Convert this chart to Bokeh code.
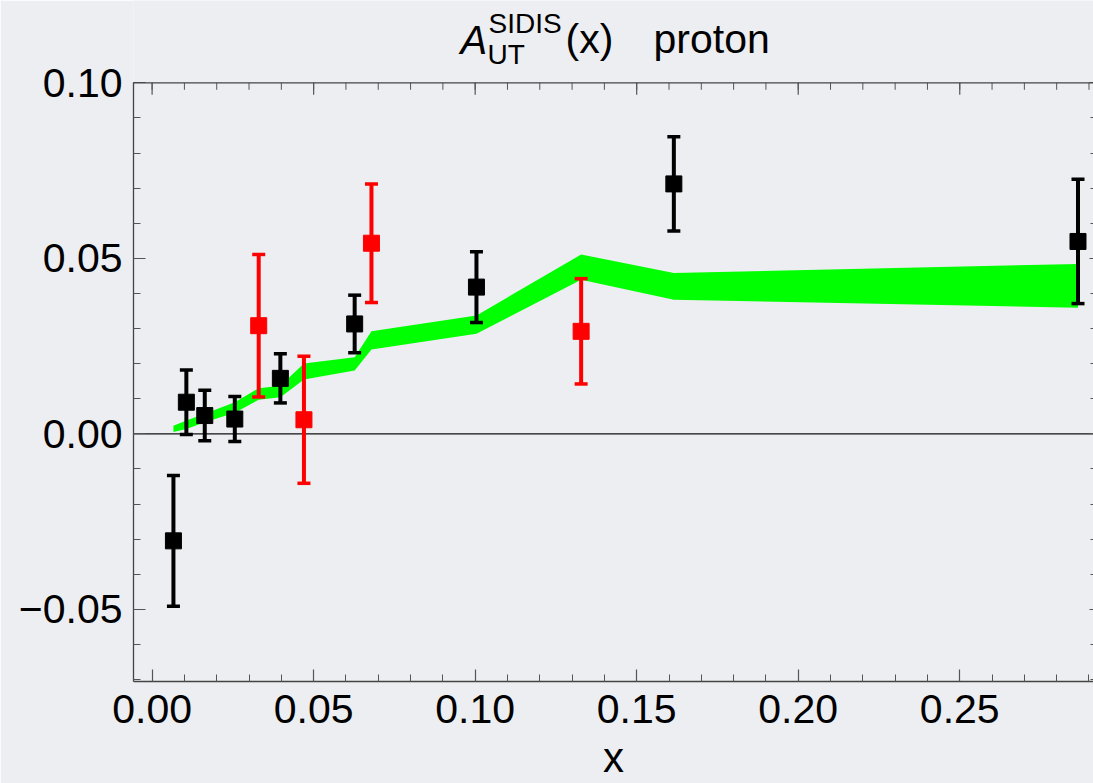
from bokeh.plotting import figure
from bokeh.models import (FixedTicker, LinearAxis, Span, Range1d,
                          CustomJSTickFormatter)
from bokeh.core.properties import value
from bokeh.embed import file_html
from bokeh.resources import INLINE

# COMPASS proton data (black)
compass_x = [0.0066, 0.0106, 0.0163, 0.0256, 0.0397, 0.0627, 0.1004, 0.1615, 0.2866]
compass_y = [-0.0305, 0.0090, 0.0052, 0.0042, 0.0158, 0.0313, 0.0418, 0.0712, 0.0548]
compass_err = [0.0186, 0.0092, 0.0072, 0.0064, 0.0070, 0.0082, 0.0101, 0.0134, 0.0177]

# HERMES proton data (red)
hermes_x = [0.0330, 0.0470, 0.0679, 0.1328]
hermes_y = [0.0308, 0.0040, 0.0543, 0.0292]
hermes_err = [0.0203, 0.0181, 0.0169, 0.0150]

# model uncertainty band evaluated at the measured x values
band_x = [0.0066, 0.0106, 0.0163, 0.0256, 0.0330, 0.0397, 0.0470,
          0.0627, 0.0679, 0.1004, 0.1328, 0.1615, 0.2866]
band_hi = [0.0023, 0.0038, 0.0057, 0.0090, 0.0130, 0.0137, 0.0200,
           0.0218, 0.0292, 0.0337, 0.0511, 0.0458, 0.0484]
band_lo = [0.0005, 0.0014, 0.0033, 0.0060, 0.0097, 0.0104, 0.0155,
           0.0180, 0.0240, 0.0285, 0.0439, 0.0382, 0.0359]

# ticks
x_major = [0.00, 0.05, 0.10, 0.15, 0.20, 0.25]
x_minor = [i / 100 for i in range(0, 30)]
y_major = [-0.05, 0.00, 0.05, 0.10]
y_minor = [i / 100 for i in range(-7, 11)]

FONT = "Liberation Sans"
BG = "#eceef1"
SPINE = "#444444"
TICK = "#555555"
W, H = 1093, 783
LEFT = 133                  # left margin holding the y tick labels
BOTTOM = 102                # room for the x tick labels and axis name
FRAME_H = H - BOTTOM

X0, X1 = -0.00576, 0.2914   # horizontal data range
Y0, Y1 = -0.07057, 0.12345  # vertical range; upper part hosts the title
Y_TOP = 0.10                # top edge of the boxed plot area


def y_to_px(y):
    return (Y1 - y) / (Y1 - Y0) * FRAME_H


TOP_PX = y_to_px(Y_TOP)

p = figure(width=W, height=H,
           x_range=Range1d(X0, X1), y_range=Range1d(Y0, Y1),
           output_backend="svg", toolbar_location=None,
           min_border_left=LEFT, min_border_right=0,
           min_border_top=0, min_border_bottom=BOTTOM)
p.background_fill_color = BG
p.border_fill_color = BG
p.outline_line_color = None
p.grid.visible = False
# pixel-like ranges for lettering and the top tick marks
p.extra_x_ranges = {"px": Range1d(LEFT, W)}
p.extra_y_ranges = {"py": Range1d(FRAME_H, 0)}

label_fmt = CustomJSTickFormatter(
    code="return (tick < -1e-9 ? '\\u2212' : '') + Math.abs(tick).toFixed(2);")
blank_fmt = CustomJSTickFormatter(code="return '';")


def style_axis(ax, major, minor):
    ax.ticker = FixedTicker(ticks=major, minor_ticks=minor)
    ax.axis_line_color = SPINE
    ax.axis_line_width = 1.3
    ax.major_tick_line_color = TICK
    ax.minor_tick_line_color = TICK
    ax.major_tick_line_width = 1.2
    ax.minor_tick_line_width = 1.0
    ax.major_tick_in = 12
    ax.major_tick_out = 0
    ax.minor_tick_in = 7
    ax.minor_tick_out = 0
    ax.major_label_text_font = FONT
    ax.major_label_text_font_size = "41px"
    ax.major_label_text_color = "black"


xb = p.xaxis[0]
style_axis(xb, x_major, x_minor)
xb.formatter = label_fmt
xb.major_label_standoff = 13
xb.axis_label = "x"
xb.axis_label_text_font = FONT
xb.axis_label_text_font_size = "42px"
xb.axis_label_text_font_style = "normal"
xb.axis_label_text_color = "black"
xb.axis_label_standoff = 8

yl = p.yaxis[0]
style_axis(yl, y_major, y_minor)
yl.formatter = label_fmt
yl.major_label_standoff = 11
yl.bounds = (Y0, Y_TOP)

yr = LinearAxis(bounds=(Y0, Y_TOP))
style_axis(yr, y_major, y_minor)
yr.formatter = blank_fmt
yr.major_label_standoff = 0
yr.major_label_text_font_size = "0px"
yr.axis_line_color = None
yr.major_tick_in = 4
yr.minor_tick_in = 3
p.add_layout(yr, "right")

# top edge of the box with inward ticks
p.add_layout(Span(location=Y_TOP, dimension="width", line_color=SPINE,
                  line_width=1.3))
p.segment(x0=x_minor, x1=x_minor, y0=[TOP_PX] * len(x_minor),
          y1=[TOP_PX + 7] * len(x_minor), y_range_name="py",
          line_color=TICK, line_width=1.0)
p.segment(x0=x_major, x1=x_major, y0=[TOP_PX] * len(x_major),
          y1=[TOP_PX + 12] * len(x_major), y_range_name="py",
          line_color=TICK, line_width=1.2)

# zero reference line
p.add_layout(Span(location=0, dimension="width", line_color="#111111",
                  line_width=1.3, level="underlay"))

# model band
p.varea(x=band_x, y1=band_lo, y2=band_hi, fill_color="#00ff00")


def draw_points(xs, ys, errs, color):
    lo = [y - e for y, e in zip(ys, errs)]
    hi = [y + e for y, e in zip(ys, errs)]
    p.segment(x0=xs, y0=lo, x1=xs, y1=hi, line_color=color, line_width=4)
    p.scatter(x=xs + xs, y=lo + hi, marker="dash", size=13,
              line_color=color, line_width=3.5)
    p.scatter(x=xs, y=ys, marker="square", size=16,
              fill_color=color, line_color=color)


draw_points(compass_x, compass_y, compass_err, "#000000")
draw_points(hermes_x, hermes_y, hermes_err, "#ff0000")


def letter(px, baseline, text, size, style="normal", align="left"):
    """Place text by its left x and baseline, in the pixel-like ranges."""
    p.text(x=[px], y=[baseline - 0.35 * size], text=[text],
           x_range_name="px", y_range_name="py",
           text_font=value(FONT), text_font_size=f"{size}px",
           text_font_style=style, text_baseline="middle",
           text_align=align, text_color="black")


# title: A_UT^SIDIS(x)   proton
letter(460, 53, "A", 40, style="italic")
letter(487, 64, "UT", 28)
letter(488, 33, "SIDIS", 28)
letter(565, 53, "(x)", 41)
letter(653, 53, "proton", 41)

open("out.html", "w").write(file_html(p, INLINE))
